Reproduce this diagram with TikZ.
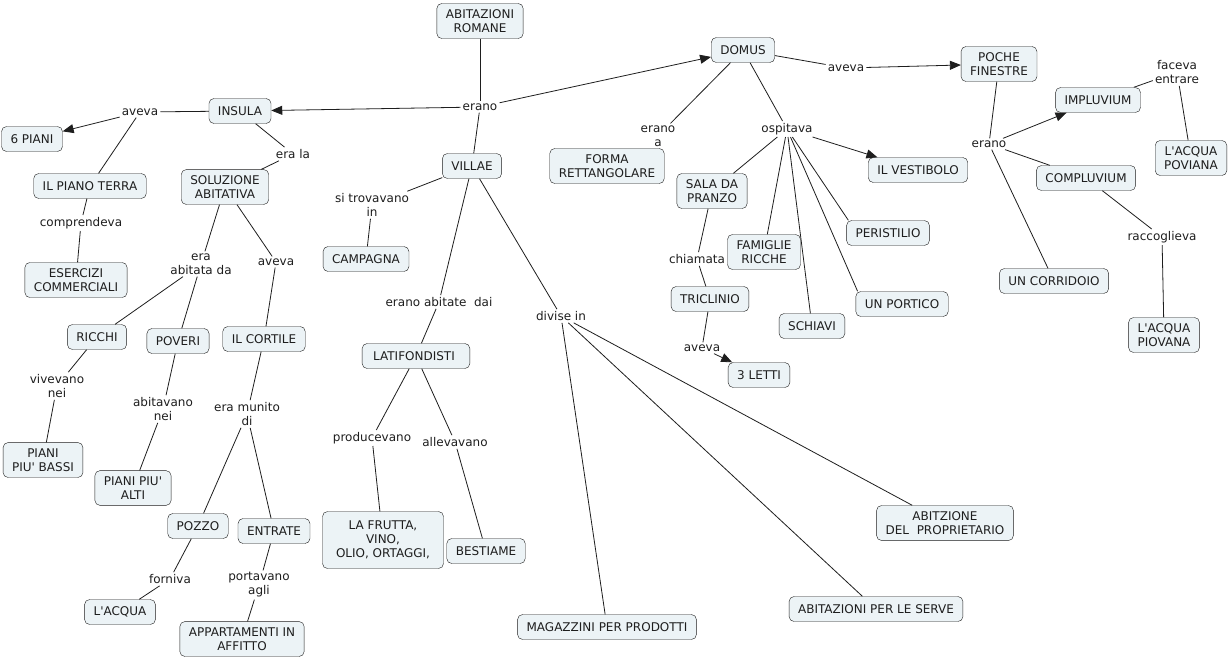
\documentclass[tikz,border=0pt]{standalone}
\usepackage{fontspec}
\setmainfont{DejaVu Sans}
\usetikzlibrary{arrows.meta,backgrounds}

\definecolor{boxfill}{RGB}{236,243,246}
\definecolor{ink}{RGB}{30,30,30}
\newcommand{\apo}{\textquotesingle}

\tikzset{
    concept/.style={draw=ink, fill=boxfill, text=ink, rounded corners=5pt,
        align=center, inner xsep=9pt, inner ysep=6pt, minimum height=25pt,
        font=\fontsize{12}{14}\selectfont},
    linkword/.style={fill=white, text=ink, align=center, inner sep=2pt,
        font=\fontsize{12}{14}\selectfont},
    link/.style={draw=ink, line width=0.8pt},
    arr/.style={link, -{Triangle[length=11pt,width=9pt]}}
}

\begin{document}
\begin{tikzpicture}[x=1pt, y=-1pt]
        \useasboundingbox[fill=white] (0,0) rectangle (1230,662);

        % concetti
        \node[concept] (romane) at (480,21) {ABITAZIONI\\ROMANE};
        \node[concept] (insula) at (240,111) {INSULA};
        \node[concept] (domus) at (743,50) {DOMUS};
        \node[concept] (villae) at (472,166) {VILLAE};
        \node[concept] (seipiani) at (32,139) {6 PIANI};
        \node[concept] (terra) at (90,186) {IL PIANO TERRA};
        \node[concept] (soluzione) at (225,187) {SOLUZIONE\\ABITATIVA};
        \node[concept] (esercizi) at (76,280) {ESERCIZI\\COMMERCIALI};
        \node[concept] (ricchi) at (97,337) {RICCHI};
        \node[concept] (poveri) at (178,341) {POVERI};
        \node[concept] (cortile) at (264,339) {IL CORTILE};
        \node[concept] (bassi) at (43,460) {PIANI\\PIU\apo{} BASSI};
        \node[concept] (alti) at (133,488) {PIANI PIU\apo\\ALTI};
        \node[concept] (pozzo) at (198,526) {POZZO};
        \node[concept] (entrate) at (274,531) {ENTRATE};
        \node[concept] (acqua) at (120,612) {L\apo ACQUA};
        \node[concept] (affitto) at (242,639) {APPARTAMENTI IN\\AFFITTO};
        \node[concept] (campagna) at (366,259) {CAMPAGNA};
        \node[concept, inner xsep=11pt] (latifondisti) at (416,356) {LATIFONDISTI\hspace*{4pt}};
        \node[concept, minimum width=121pt, minimum height=57pt] (frutta) at (383,540) {LA FRUTTA,\\VINO,\\OLIO, ORTAGGI,};
        \node[concept] (bestiame) at (486,551) {BESTIAME};
        \node[concept] (magazzini) at (607,627) {MAGAZZINI PER PRODOTTI};
        \node[concept] (serve) at (876,609) {ABITAZIONI PER LE SERVE};
        \node[concept] (proprietario) at (945,523) {ABITZIONE\\DEL\ \ PROPRIETARIO};
        \node[concept] (forma) at (607,166) {FORMA\\RETTANGOLARE};
        \node[concept] (sala) at (712,191) {SALA DA\\PRANZO};
        \node[concept] (famiglie) at (764,252) {FAMIGLIE\\RICCHE};
        \node[concept] (schiavi) at (812,326) {SCHIAVI};
        \node[concept] (portico) at (902,304) {UN PORTICO};
        \node[concept] (peristilio) at (888,233) {PERISTILIO};
        \node[concept] (vestibolo) at (918,170) {IL VESTIBOLO};
        \node[concept] (triclinio) at (710,299) {TRICLINIO};
        \node[concept] (letti) at (759,375) {3 LETTI};
        \node[concept] (finestre) at (999,64) {POCHE\\FINESTRE};
        \node[concept] (impluvium) at (1098,100) {IMPLUVIUM};
        \node[concept] (poviana) at (1191,158) {L\apo ACQUA\\POVIANA};
        \node[concept] (compluvium) at (1086,178) {COMPLUVIUM};
        \node[concept] (corridoio) at (1054,281) {UN CORRIDOIO};
        \node[concept] (piovana) at (1164,335) {L\apo ACQUA\\PIOVANA};

        % parole di collegamento
        \node[linkword] (erano) at (480,107) {erano};
        \node[linkword] (avevaI) at (140,112) {aveva};
        \node[linkword] (erala) at (293,154) {era la};
        \node[linkword] (comprendeva) at (81,223) {comprendeva};
        \node[linkword] (abitata) at (201,264) {era\\abitata da};
        \node[linkword] (avevaS) at (276,262) {aveva};
        \node[linkword] (vivevano) at (57,386) {vivevano\\nei};
        \node[linkword] (abitavano) at (163,409) {abitavano\\nei};
        \node[linkword] (munito) at (247,414) {era munito\\di};
        \node[linkword] (forniva) at (170,579) {forniva};
        \node[linkword] (portavano) at (259,585) {portavano\\agli};
        \node[linkword] (trovavano) at (372,205) {si trovavano\\in};
        \node[linkword] (abitate) at (439,302) {erano abitate\ \ dai};
        \node[linkword] (producevano) at (372,438) {producevano};
        \node[linkword] (allevavano) at (455,442) {allevavano};
        \node[linkword] (divise) at (561,316) {divise in};
        \node[linkword] (eranoa) at (658,136) {erano\\a};
        \node[linkword] (ospitava) at (787,129) {ospitava};
        \node[linkword] (chiamata) at (697,259) {chiamata};
        \node[linkword] (avevaT) at (702,348) {aveva};
        \node[linkword] (avevaD) at (846,68) {aveva};
        \node[linkword] (eranoF) at (989,144) {erano};
        \node[linkword] (faceva) at (1177,72) {faceva\\entrare};
        \node[linkword] (raccoglieva) at (1162,237) {raccoglieva};

        % collegamenti
        \draw[link] (romane) -- (erano);
        \draw[arr] (erano) -- (insula);
        \draw[arr] (erano) -- (domus);
        \draw[link] (erano) -- (villae);

        \draw[link] (insula) -- (avevaI);
        \draw[arr] (avevaI) -- (seipiani);
        \draw[link] (avevaI) -- (terra);
        \draw[link] (terra) -- (comprendeva);
        \draw[link] (comprendeva) -- (esercizi);
        \draw[link] (insula) -- (erala);
        \draw[link] (erala) -- (soluzione);
        \draw[link] (soluzione) -- (abitata);
        \draw[link] (abitata) -- (ricchi);
        \draw[link] (abitata) -- (poveri);
        \draw[link] (soluzione) -- (avevaS);
        \draw[link] (avevaS) -- (cortile);
        \draw[link] (ricchi) -- (vivevano);
        \draw[link] (vivevano) -- (bassi);
        \draw[link] (poveri) -- (abitavano);
        \draw[link] (abitavano) -- (alti);
        \draw[link] (cortile) -- (munito);
        \draw[link] (munito) -- (pozzo);
        \draw[link] (munito) -- (entrate);
        \draw[link] (pozzo) -- (forniva);
        \draw[link] (forniva) -- (acqua);
        \draw[link] (entrate) -- (portavano);
        \draw[link] (portavano) -- (affitto);

        \draw[link] (villae) -- (trovavano);
        \draw[link] (trovavano) -- (campagna);
        \draw[link] (villae) -- (abitate);
        \draw[link] (abitate) -- (latifondisti);
        \draw[link] (latifondisti) -- (producevano);
        \draw[link] (producevano) -- (frutta);
        \draw[link] (latifondisti) -- (allevavano);
        \draw[link] (allevavano) -- (bestiame);
        \draw[link] (villae) -- (divise);
        \draw[link] (divise) -- (magazzini);
        \draw[link] (divise) -- (serve);
        \draw[link] (divise) -- (proprietario);

        \draw[link] (domus) -- (eranoa);
        % la punta resta nascosta sotto il riquadro
        \begin{pgfonlayer}{background}
            \draw[arr] (eranoa) -- ([xshift=28pt,yshift=12pt]forma.center);
        \end{pgfonlayer}
        \draw[link] (domus) -- (ospitava);
        \draw[link] (ospitava) -- (sala);
        \draw[link] (ospitava) -- (famiglie);
        \draw[link] (ospitava) -- (schiavi);
        \draw[link] (ospitava) -- ([xshift=2pt]portico.north west);
        \draw[link] (ospitava) -- ([xshift=2pt]peristilio.north west);
        \draw[arr] (ospitava) -- (vestibolo);
        \draw[link] (sala) -- (chiamata);
        \draw[link] (chiamata) -- (triclinio);
        \draw[link] (triclinio) -- (avevaT);
        \draw[arr] (avevaT) -- (letti);

        \draw[link] (domus) -- (avevaD);
        \draw[arr] (avevaD) -- (finestre);
        \draw[link] (finestre) -- (eranoF);
        \draw[arr] (eranoF) -- (impluvium);
        \draw[link] (eranoF) -- (compluvium);
        \draw[link] (eranoF) -- (corridoio);
        \draw[link] (impluvium) -- (faceva);
        \draw[link] (faceva) -- (poviana);
        \draw[link] (compluvium) -- (raccoglieva);
        \draw[link] (raccoglieva) -- (piovana);
\end{tikzpicture}
\end{document}
